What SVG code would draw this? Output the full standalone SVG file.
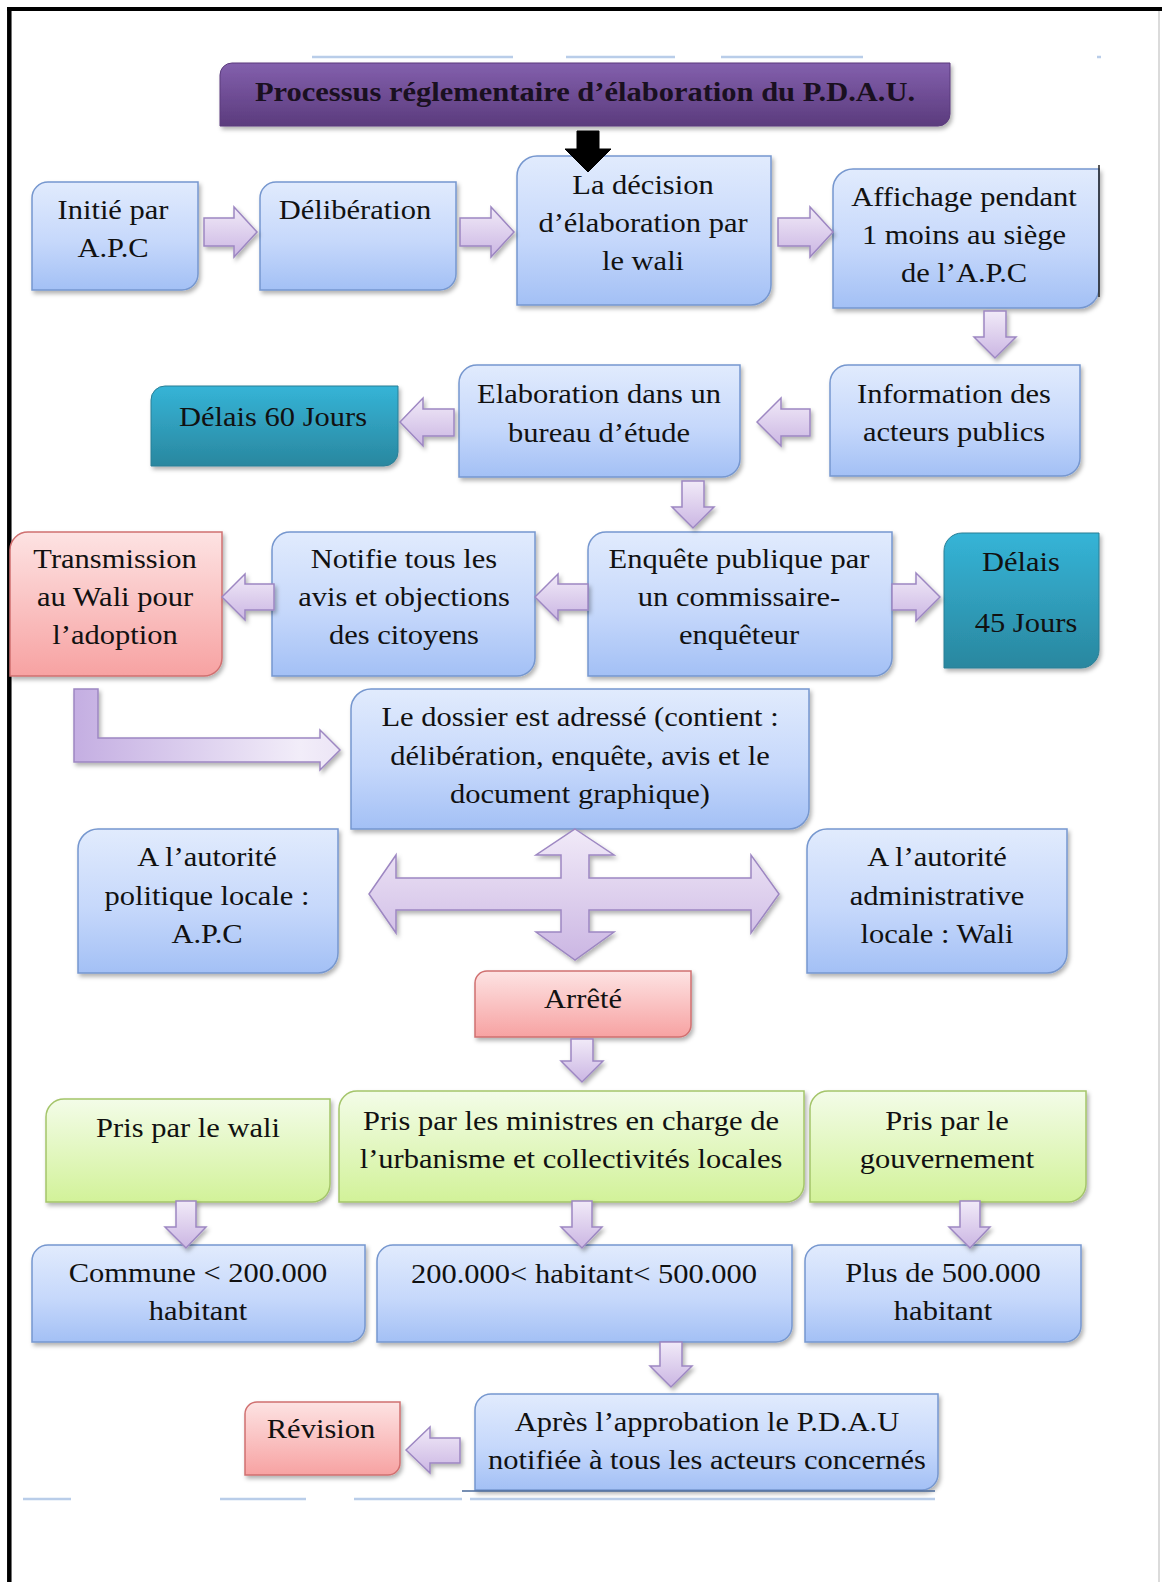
<svg xmlns="http://www.w3.org/2000/svg" width="1162" height="1582" viewBox="0 0 1162 1582">
<defs>
<linearGradient id="gBlue" x1="0" y1="0" x2="0" y2="1"><stop offset="0" stop-color="#e1ebfd"/><stop offset="0.55" stop-color="#c6d8fb"/><stop offset="1" stop-color="#a3c0f5"/></linearGradient>
<linearGradient id="gGreen" x1="0" y1="0" x2="0" y2="1"><stop offset="0" stop-color="#f3fce8"/><stop offset="1" stop-color="#d2f299"/></linearGradient>
<linearGradient id="gRed" x1="0" y1="0" x2="0" y2="1"><stop offset="0" stop-color="#fde3e3"/><stop offset="1" stop-color="#f7a2a2"/></linearGradient>
<linearGradient id="gTeal" x1="0" y1="0" x2="0" y2="1"><stop offset="0" stop-color="#35b4d7"/><stop offset="1" stop-color="#2a879f"/></linearGradient>
<linearGradient id="gTitle" x1="0" y1="0" x2="0" y2="1"><stop offset="0" stop-color="#8360ad"/><stop offset="1" stop-color="#5b3b7d"/></linearGradient>
<linearGradient id="gArrow" x1="0" y1="0" x2="0" y2="1"><stop offset="0" stop-color="#f1eaf8"/><stop offset="1" stop-color="#cbb6e3"/></linearGradient>
<linearGradient id="gArrowH" x1="0" y1="0" x2="1" y2="0"><stop offset="0" stop-color="#c4aee2"/><stop offset="0.85" stop-color="#f2edf9"/><stop offset="1" stop-color="#ece5f6"/></linearGradient>
<filter id="sh" x="-10%" y="-10%" width="125%" height="135%"><feDropShadow dx="2" dy="3" stdDeviation="2" flood-color="#000" flood-opacity="0.3"/></filter>
</defs>
<style>
.blue{fill:url(#gBlue);stroke:#7697cf;stroke-width:1.5;filter:url(#sh)}
.green{fill:url(#gGreen);stroke:#a4c56a;stroke-width:1.5;filter:url(#sh)}
.red{fill:url(#gRed);stroke:#d07070;stroke-width:1.5;filter:url(#sh)}
.teal{fill:url(#gTeal);stroke:#2a7e95;stroke-width:1;filter:url(#sh)}
.title{fill:url(#gTitle);stroke:#5b3b7d;stroke-width:1;filter:url(#sh)}
.arr{fill:url(#gArrow);stroke:#9d87c2;stroke-width:1.5;filter:url(#sh)}
.arrL{fill:url(#gArrowH);stroke:#9d87c2;stroke-width:1.5;filter:url(#sh)}
.blk{fill:#000;stroke:#000;stroke-width:1}
text{font-family:"Liberation Serif","Times New Roman",serif;font-size:28px;fill:#111;text-anchor:middle}
.tb{font-weight:bold;fill:#1a1020}
.frame{stroke:#000;fill:none}
.art{stroke:#b9cde9;stroke-width:2.5;fill:none}
</style>
<rect x="0" y="0" width="1162" height="1582" fill="#fff"/>
<g id="frame">
<line class="frame" x1="7" y1="9" x2="1162" y2="9" stroke-width="4"/>
<line class="frame" x1="9.3" y1="7" x2="9.3" y2="1582" stroke-width="4.5"/>
<line x1="1159" y1="11" x2="1159" y2="1582" stroke="#cfcfcf" stroke-width="1.5"/>
<line class="art" x1="312" y1="57" x2="513" y2="57"/>
<line class="art" x1="566" y1="57" x2="675" y2="57"/>
<line class="art" x1="721" y1="57" x2="863" y2="57"/>
<line class="art" x1="1097" y1="57" x2="1101" y2="57"/>
<line class="art" x1="23" y1="1499" x2="71" y2="1499"/>
<line class="art" x1="220" y1="1499" x2="306" y2="1499"/>
<line class="art" x1="354" y1="1499" x2="462" y2="1499"/>
<line class="art" x1="470" y1="1499" x2="935" y2="1499"/>
</g>

<g id="n-title"><path class="title" d="M232 63 H950 V114 A12 12 0 0 1 938 126 H220 V75 A12 12 0 0 1 232 63 Z"/>
<text class="tb" transform="translate(585 0) scale(1.09 1)" x="0" y="101">Processus réglementaire d’élaboration du P.D.A.U.</text></g>

<g id="n-initie"><path class="blue" d="M48 182 H198 V274 A16 16 0 0 1 182 290 H32 V198 A16 16 0 0 1 48 182 Z"/>
<text transform="translate(113 0) scale(1.09 1)"><tspan x="0" y="219">Initié par</tspan><tspan x="0" y="257">A.P.C</tspan></text></g>

<g id="n-deliberation"><path class="blue" d="M276 182 H456 V274 A16 16 0 0 1 440 290 H260 V198 A16 16 0 0 1 276 182 Z"/>
<text transform="translate(355 0) scale(1.09 1)" x="0" y="219">Délibération</text></g>

<g id="n-decision"><path class="blue" d="M537 156 H771 V285 A20 20 0 0 1 751 305 H517 V176 A20 20 0 0 1 537 156 Z"/>
<text transform="translate(643 0) scale(1.09 1)"><tspan x="0" y="194">La décision</tspan><tspan x="0" y="232">d’élaboration par</tspan><tspan x="0" y="270">le wali</tspan></text></g>

<g id="n-affichage"><path class="blue" d="M853 169 H1099 V288 A20 20 0 0 1 1079 308 H833 V189 A20 20 0 0 1 853 169 Z"/>
<line x1="1099" y1="165" x2="1099" y2="297" stroke="#222" stroke-width="1.5"/>
<text transform="translate(964 0) scale(1.09 1)"><tspan x="0" y="206">Affichage pendant</tspan><tspan x="0" y="244">1 moins au siège</tspan><tspan x="0" y="282">de l’A.P.C</tspan></text></g>

<g id="n-delais60"><path class="teal" d="M165 386 H398 V452 A14 14 0 0 1 384 466 H151 V400 A14 14 0 0 1 165 386 Z"/>
<text transform="translate(273 0) scale(1.09 1)" x="0" y="426">Délais 60 Jours</text></g>

<g id="n-elaboration"><path class="blue" d="M477 365 H740 V459 A18 18 0 0 1 722 477 H459 V383 A18 18 0 0 1 477 365 Z"/>
<text transform="translate(599 0) scale(1.09 1)"><tspan x="0" y="403">Elaboration dans un</tspan><tspan x="0" y="442">bureau d’étude</tspan></text></g>

<g id="n-information"><path class="blue" d="M848 365 H1080 V458 A18 18 0 0 1 1062 476 H830 V383 A18 18 0 0 1 848 365 Z"/>
<text transform="translate(954 0) scale(1.09 1)"><tspan x="0" y="403">Information des</tspan><tspan x="0" y="441">acteurs publics</tspan></text></g>

<g id="n-transmission"><path class="red" d="M28 532 H222 V658 A18 18 0 0 1 204 676 H10 V550 A18 18 0 0 1 28 532 Z"/>
<text transform="translate(115 0) scale(1.09 1)"><tspan x="0" y="568">Transmission</tspan><tspan x="0" y="606">au Wali pour</tspan><tspan x="0" y="644">l’adoption</tspan></text></g>

<g id="n-notifie"><path class="blue" d="M290 532 H535 V658 A18 18 0 0 1 517 676 H272 V550 A18 18 0 0 1 290 532 Z"/>
<text transform="translate(404 0) scale(1.09 1)"><tspan x="0" y="568">Notifie tous les</tspan><tspan x="0" y="606">avis et objections</tspan><tspan x="0" y="644">des citoyens</tspan></text></g>

<g id="n-enquete"><path class="blue" d="M606 532 H892 V658 A18 18 0 0 1 874 676 H588 V550 A18 18 0 0 1 606 532 Z"/>
<text transform="translate(739 0) scale(1.09 1)"><tspan x="0" y="568">Enquête publique par</tspan><tspan x="0" y="606">un commissaire-</tspan><tspan x="0" y="644">enquêteur</tspan></text></g>

<g id="n-delais45"><path class="teal" d="M962 533 H1099 V650 A18 18 0 0 1 1081 668 H944 V551 A18 18 0 0 1 962 533 Z"/>
<text transform="translate(1021 0) scale(1.09 1)" x="0" y="571">Délais</text>
<text transform="translate(1026 0) scale(1.09 1)" x="0" y="632">45 Jours</text></g>

<g id="n-dossier"><path class="blue" d="M371 689 H809 V809 A20 20 0 0 1 789 829 H351 V709 A20 20 0 0 1 371 689 Z"/>
<text transform="translate(580 0) scale(1.09 1)"><tspan x="0" y="726">Le dossier est adressé (contient :</tspan><tspan x="0" y="765">délibération, enquête, avis et le</tspan><tspan x="0" y="803">document graphique)</tspan></text></g>

<g id="n-politique"><path class="blue" d="M98 829 H338 V953 A20 20 0 0 1 318 973 H78 V849 A20 20 0 0 1 98 829 Z"/>
<text transform="translate(207 0) scale(1.09 1)"><tspan x="0" y="866">A l’autorité</tspan><tspan x="0" y="905">politique locale :</tspan><tspan x="0" y="943">A.P.C</tspan></text></g>

<g id="n-administrative"><path class="blue" d="M827 829 H1067 V953 A20 20 0 0 1 1047 973 H807 V849 A20 20 0 0 1 827 829 Z"/>
<text transform="translate(937 0) scale(1.09 1)"><tspan x="0" y="866">A l’autorité</tspan><tspan x="0" y="905">administrative</tspan><tspan x="0" y="943">locale : Wali</tspan></text></g>

<g id="n-arrete"><path class="red" d="M487 971 H691 V1025 A12 12 0 0 1 679 1037 H475 V983 A12 12 0 0 1 487 971 Z"/>
<text transform="translate(583 0) scale(1.09 1)" x="0" y="1008">Arrêté</text></g>

<g id="n-pris-wali"><path class="green" d="M64 1099 H330 V1184 A18 18 0 0 1 312 1202 H46 V1117 A18 18 0 0 1 64 1099 Z"/>
<text transform="translate(188 0) scale(1.09 1)" x="0" y="1137">Pris par le wali</text></g>

<g id="n-pris-ministres"><path class="green" d="M357 1091 H804 V1184 A18 18 0 0 1 786 1202 H339 V1109 A18 18 0 0 1 357 1091 Z"/>
<text transform="translate(571 0) scale(1.09 1)"><tspan x="0" y="1130">Pris par les ministres en charge de</tspan><tspan x="0" y="1168">l’urbanisme et collectivités locales</tspan></text></g>

<g id="n-pris-gouvernement"><path class="green" d="M828 1091 H1086 V1184 A18 18 0 0 1 1068 1202 H810 V1109 A18 18 0 0 1 828 1091 Z"/>
<text transform="translate(947 0) scale(1.09 1)"><tspan x="0" y="1130">Pris par le</tspan><tspan x="0" y="1168">gouvernement</tspan></text></g>

<g id="n-commune"><path class="blue" d="M48 1245 H365 V1326 A16 16 0 0 1 349 1342 H32 V1261 A16 16 0 0 1 48 1245 Z"/>
<text transform="translate(198 0) scale(1.09 1)"><tspan x="0" y="1282">Commune &lt; 200.000</tspan><tspan x="0" y="1320">habitant</tspan></text></g>

<g id="n-moyenne"><path class="blue" d="M393 1245 H792 V1326 A16 16 0 0 1 776 1342 H377 V1261 A16 16 0 0 1 393 1245 Z"/>
<text transform="translate(584 0) scale(1.09 1)" x="0" y="1283">200.000&lt; habitant&lt; 500.000</text></g>

<g id="n-plus"><path class="blue" d="M821 1245 H1081 V1326 A16 16 0 0 1 1065 1342 H805 V1261 A16 16 0 0 1 821 1245 Z"/>
<text transform="translate(943 0) scale(1.09 1)"><tspan x="0" y="1282">Plus de 500.000</tspan><tspan x="0" y="1320">habitant</tspan></text></g>

<g id="n-revision"><path class="red" d="M257 1402 H400 V1463 A12 12 0 0 1 388 1475 H245 V1414 A12 12 0 0 1 257 1402 Z"/>
<text transform="translate(321 0) scale(1.09 1)" x="0" y="1438">Révision</text></g>

<g id="n-apres"><path class="blue" d="M491 1394 H938 V1474 A16 16 0 0 1 922 1490 H475 V1410 A16 16 0 0 1 491 1394 Z"/>
<line x1="462" y1="1491" x2="935" y2="1491" stroke="#4a6a9a" stroke-width="1.5"/>
<text transform="translate(707 0) scale(1.09 1)"><tspan x="0" y="1431">Après l’approbation le P.D.A.U</tspan><tspan x="0" y="1469">notifiée à tous les acteurs concernés</tspan></text></g>

<g id="connectors">
<path class="blk" d="M577 131 H599 V149 H611 L588 172 L565 149 H577 Z"/>
<polygon class="arr" points="204,218 234,218 234,207 257,232 234,257 234,246 204,246"/>
<polygon class="arr" points="460,218 491,218 491,207 514,232 491,257 491,246 460,246"/>
<polygon class="arr" points="778,218 810,218 810,207 833,232 810,257 810,246 778,246"/>
<polygon class="arr" points="984,311 1006,311 1006,337 1016,337 995,358 974,337 984,337"/>
<polygon class="arr" points="400,422 423,398 423,409 454,409 454,436 423,436 423,446"/>
<polygon class="arr" points="757,422 781,398 781,409 810,409 810,436 781,436 781,446"/>
<polygon class="arr" points="682,481 704,481 704,507 714,507 693,528 672,507 682,507"/>
<polygon class="arr" points="222,597 245,574 245,584 274,584 274,610 245,610 245,620"/>
<polygon class="arr" points="535,597 558,574 558,584 588,584 588,610 558,610 558,620"/>
<polygon class="arr" points="892,584 916,584 916,573 940,597 916,621 916,610 892,610"/>
<path class="arrL" d="M74 689 H98 V738 H320 V730 L340 750 L320 770 V762 H74 Z"/>
<path class="arr" d="M575 829 L614 855 L589 855 L589 878 L751 878 L751 855 L779 894 L751 933 L751 910 L589 910 L589 932 L614 932 L575 960 L536 932 L561 932 L561 910 L396 910 L396 933 L369 894 L396 855 L396 878 L561 878 L561 855 L536 855 Z"/>
<polygon class="arr" points="571,1039 593,1039 593,1061 603,1061 582,1082 561,1061 571,1061"/>
<polygon class="arr" points="176,1201 196,1201 196,1227 206,1227 186,1248 165,1227 176,1227"/>
<polygon class="arr" points="572,1201 592,1201 592,1227 602,1227 582,1248 561,1227 572,1227"/>
<polygon class="arr" points="960,1201 980,1201 980,1227 990,1227 970,1248 949,1227 960,1227"/>
<polygon class="arr" points="660,1342 682,1342 682,1366 692,1366 671,1387 650,1366 660,1366"/>
<polygon class="arr" points="406,1450 430,1427 430,1438 460,1438 460,1463 430,1463 430,1473"/>
</g>
</svg>
